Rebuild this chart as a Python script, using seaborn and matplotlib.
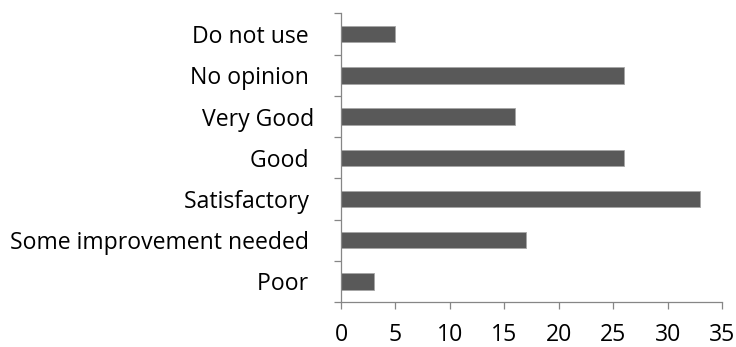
import seaborn as sns
import matplotlib.pyplot as plt
import pandas as pd
from matplotlib.ticker import FixedLocator

categories = ['Do not use ', 'No opinion ', 'Very Good', 'Good ', 'Satisfactory ',
              'Some improvement needed ', 'Poor ']
counts = [5, 26, 16, 26, 33, 17, 3]
x_ticks = [0, 5, 10, 15, 20, 25, 30, 35]

df = pd.DataFrame({'category': categories, 'count': counts})

sns.set_style('white')
plt.rcParams['font.family'] = ['Open Sans', 'DejaVu Sans']

fig = plt.figure(figsize=(7.36, 3.47), dpi=100)
ax = fig.add_axes([0.4633, 0.1297, 0.5177, 0.8314])
sns.barplot(data=df, y='category', x='count', color='#595959',
            saturation=1, width=0.4, edgecolor='#a6a6a6', linewidth=0.6, ax=ax)

ax.set_xlim(0, 35)
ax.set_ylim(len(categories) - 0.5, -0.5)
ax.set_xticks(x_ticks)
ax.set_xlabel('')
ax.set_ylabel('')

# Excel-style ticks between categories
ax.yaxis.set_minor_locator(FixedLocator([i - 0.5 for i in range(len(categories) + 1)]))
ax.tick_params(axis='y', which='major', length=0, pad=19, labelsize=16.6, labelcolor='black')
ax.tick_params(axis='y', which='minor', left=True, length=5, width=0.9, color='#868686', direction='out')
ax.tick_params(axis='x', which='major', bottom=True, length=5, width=0.9, color='#868686',
               direction='out', pad=10, labelsize=16.6, labelcolor='black')
ax.xaxis.set_minor_locator(FixedLocator([]))

for s in ['top', 'right']:
    ax.spines[s].set_visible(False)
for s in ['left', 'bottom']:
    ax.spines[s].set_color('#868686')
    ax.spines[s].set_linewidth(0.9)

fig.savefig('out.png', dpi=100)
